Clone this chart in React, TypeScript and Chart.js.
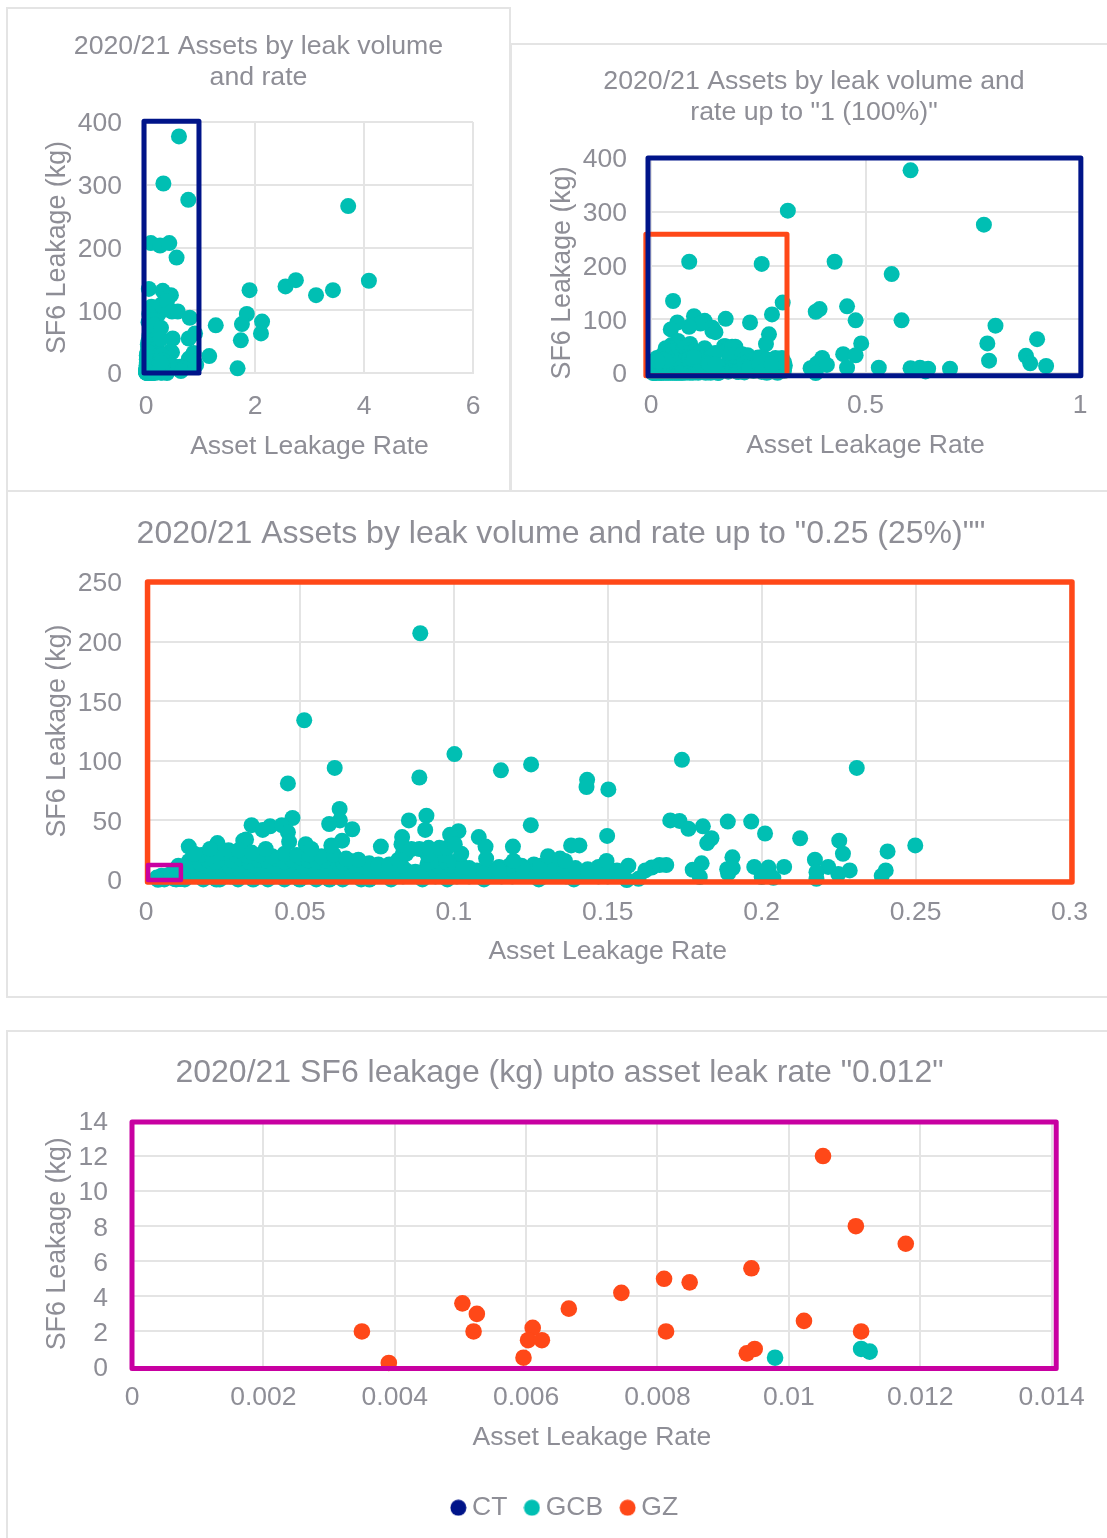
import React, { useEffect, useRef } from "react";
import { Chart, registerables } from "chart.js";

Chart.register(...registerables);

// ---------- data: [asset leak rate, SF6 leakage in kg] ----------
const gcbAboveOne = [
  [3.71, 266], [4.09, 147], [2.75, 148], [2.56, 138], [3.43, 132], [3.12, 124], [1.9, 132], [1.85, 94],
  [1.76, 78], [2.13, 82], [2.11, 63], [1.74, 52], [1.28, 76], [1.16, 27], [1.68, 7.5],
];
const gcbQuarterToOne = [
  [0.319, 302], [0.605, 377], [0.776, 276], [0.258, 203], [0.428, 207], [0.561, 184], [0.307, 131], [0.282, 109],
  [0.457, 124], [0.393, 119], [0.384, 114], [0.477, 98], [0.584, 98], [0.803, 88], [0.49, 55], [0.784, 55],
  [0.9, 63], [0.275, 72], [0.268, 54], [0.448, 35], [0.477, 33], [0.399, 28], [0.788, 23], [0.874, 32],
  [0.884, 18], [0.921, 13], [0.531, 10], [0.457, 10], [0.605, 9], [0.627, 10], [0.646, 8], [0.697, 8],
  [0.64, 3], [0.372, 9], [0.386, 17], [0.384, 0], [0.41, 15], [0.312, 14], [0.3, 15], [0.29, 18],
  [0.26, 30], [0.305, 28], [0.255, 28], [0.262, 18], [0.27, 25], [0.275, 12], [0.283, 22], [0.295, 8],
  [0.3, 5], [0.285, 3], [0.265, 5], [0.275, 2], [0.255, 8], [0.29, 28], [0.31, 4], [0.295, 0.5], [0.27, 0.5],
  [0.262, 12], [0.278, 6], [0.288, 12], [0.3, 12], [0.31, 20], [0.252, 16], [0.258, 2], [0.303, 20], [0.281, 16],
];
const gcbUpperScatter = [
  [0.0891, 207], [0.0514, 134], [0.1002, 105.6], [0.1251, 97], [0.1153, 92], [0.0888, 86], [0.0613, 94], [0.0461, 81],
  [0.1433, 84], [0.1431, 78], [0.1502, 76], [0.0629, 59.6], [0.0911, 54], [0.0476, 52], [0.063, 50], [0.0595, 47],
  [0.0854, 50], [0.067, 42.6], [0.0907, 42], [0.125, 46], [0.0343, 46], [0.0403, 45], [0.0441, 46], [0.0379, 42],
  [0.0461, 40], [0.1015, 41], [0.0988, 38], [0.1081, 36], [0.1103, 28], [0.1192, 28], [0.1381, 29], [0.1408, 29],
  [0.1498, 37], [0.0832, 36], [0.083, 30], [0.0763, 28], [0.0637, 33], [0.0602, 29], [0.0519, 30], [0.0537, 26],
  [0.0465, 32], [0.0325, 34], [0.0316, 33], [0.0232, 31], [0.0139, 28], [0.0389, 26], [0.0208, 26], [0.0268, 25],
  [0.0301, 25], [0.0343, 23], [0.0157, 22], [0.1024, 22], [0.1105, 18], [0.1194, 16], [0.1306, 20], [0.1345, 18],
  [0.1361, 16], [0.1496, 16], [0.0862, 26], [0.0888, 26], [0.0918, 27], [0.0953, 27], [0.0978, 27], [0.1003, 30],
];
const gcbRightScatter = [
  [0.1741, 100.8], [0.2309, 94], [0.1703, 50], [0.1733, 49.6], [0.1762, 43], [0.1809, 45], [0.1837, 35], [0.1823, 31],
  [0.189, 49], [0.1966, 49], [0.2011, 39], [0.2125, 35], [0.2252, 33], [0.2264, 22], [0.2499, 29], [0.2409, 24],
  [0.2403, 8], [0.239, 3.5], [0.1567, 12], [0.169, 12.6], [0.1668, 12.6], [0.1643, 10.5], [0.1622, 8], [0.16, 1],
  [0.1562, 0], [0.1805, 14], [0.1776, 8.6], [0.1799, 2.5], [0.1905, 19], [0.1888, 9], [0.1906, 10], [0.1891, 5.5],
  [0.1976, 11], [0.2022, 10.5], [0.2073, 11], [0.2, 2.5], [0.2038, 1.8], [0.2173, 17], [0.2216, 11], [0.2178, 6.5],
  [0.2178, 1], [0.2249, 5], [0.2286, 8], [0.153, 8], [0.1545, 4],
];
const gcbMassUpper = [
  [0.018, 21], [0.0215, 20], [0.025, 23], [0.029, 21], [0.033, 20], [0.037, 21], [0.041, 20], [0.045, 22],
  [0.049, 21], [0.053, 21], [0.057, 20], [0.061, 21], [0.065, 18], [0.069, 17], [0.0845, 22], [0.0915, 21], [0.097, 21],
];
const gcbMassTop = [
  [0.014, 16], [0.0175, 14], [0.02, 17], [0.0225, 15], [0.025, 18], [0.028, 16], [0.031, 18], [0.0335, 15],
  [0.0365, 17], [0.0395, 16], [0.042, 18], [0.045, 15], [0.0475, 17], [0.05, 19], [0.053, 16], [0.0555, 15],
  [0.0585, 16], [0.061, 18], [0.064, 14], [0.0665, 16], [0.0695, 13], [0.0725, 14], [0.0755, 13], [0.079, 13],
  [0.082, 17], [0.0835, 22], [0.0915, 14], [0.0945, 16], [0.0975, 15], [0.1, 15], [0.103, 11], [0.1147, 11],
  [0.126, 13], [0.1225, 10], [0.128, 12], [0.1145, 9], [0.1395, 10], [0.1435, 9], [0.147, 11],
];
const gcbMassTwelve = [
  [0.015, 12], [0.019, 12], [0.023, 13], [0.027, 12], [0.031, 13], [0.035, 12], [0.039, 13], [0.043, 12],
  [0.047, 13], [0.051, 12], [0.055, 13], [0.059, 12], [0.063, 11], [0.067, 12], [0.071, 11], [0.075, 10],
  [0.079, 10], [0.083, 12], [0.095, 12], [0.099, 12], [0.105, 10], [0.118, 12], [0.122, 12], [0.132, 11], [0.136, 10],
];
const gcbMassMiddle = [
  [0.0125, 7], [0.0155, 9], [0.0185, 8], [0.0215, 10], [0.0245, 9], [0.0275, 10], [0.0305, 8], [0.0335, 9],
  [0.0365, 10], [0.0395, 8], [0.0425, 10], [0.0455, 9], [0.0485, 8], [0.0515, 10], [0.0545, 9], [0.0575, 8],
  [0.0605, 10], [0.0635, 9], [0.0665, 8], [0.0695, 7], [0.0725, 9], [0.0755, 8], [0.0785, 7], [0.0815, 9],
  [0.0845, 8], [0.0875, 7], [0.0905, 8], [0.0935, 9], [0.0965, 8], [0.0995, 9], [0.1025, 8], [0.1075, 8],
  [0.1105, 7], [0.1135, 8], [0.1165, 9], [0.1195, 8], [0.1225, 7], [0.1255, 9], [0.1285, 8], [0.1315, 8],
  [0.1345, 7], [0.1375, 6], [0.1405, 7], [0.1435, 6], [0.1465, 7], [0.149, 8], [0.105, 5],
];
const gcbMassLow = [
  [0.0135, 3], [0.017, 4], [0.0205, 3], [0.024, 4], [0.0275, 3], [0.031, 4], [0.0345, 3], [0.038, 4],
  [0.0415, 3], [0.045, 3], [0.0485, 4], [0.052, 3], [0.0555, 4], [0.059, 3], [0.0625, 3], [0.066, 4],
  [0.0695, 3], [0.073, 3], [0.0765, 4], [0.08, 3], [0.0835, 3], [0.087, 4], [0.0905, 3], [0.094, 3],
  [0.0975, 4], [0.101, 3], [0.105, 3], [0.1085, 3], [0.112, 4], [0.1155, 3], [0.119, 3], [0.1225, 4],
  [0.126, 3], [0.1295, 3], [0.133, 4], [0.1365, 3], [0.14, 3], [0.1435, 4], [0.147, 3], [0.15, 3],
];
const gcbMassOnAxis = [
  [0.0126, 0.5], [0.0186, 0.5], [0.0229, 0.4], [0.024, 0.5], [0.0299, 0.5], [0.0348, 0.4], [0.0396, 0.5], [0.045, 0.5],
  [0.0499, 0.4], [0.0553, 0.5], [0.0596, 0.4], [0.0639, 0.5], [0.0699, 0.5], [0.0726, 0.4], [0.0796, 0.5], [0.0898, 0.5],
  [0.0979, 0.5], [0.1098, 0.5], [0.1276, 0.5], [0.139, 0.5],
];
const gcbNearZero = [[0.00979, 0.5], [0.0111, 1], [0.01123, 0.85]];
const gzNearZero = [
  [0.01052, 12], [0.01102, 8], [0.01178, 7], [0.00943, 5.6], [0.0081, 5], [0.00849, 4.8], [0.00745, 4.2], [0.00665, 3.3],
  [0.00503, 3.6], [0.00525, 3], [0.0035, 2], [0.0052, 2], [0.0061, 2.2], [0.00603, 1.5], [0.00624, 1.5], [0.00596, 0.5],
  [0.00391, 0.2], [0.00813, 2], [0.01023, 2.6], [0.0111, 2], [0.00948, 1], [0.00936, 0.75],
];

// The three overview panels plot every asset in the GCB colour.
const allAssets = [
  ...gcbNearZero, ...gzNearZero, ...gcbMassOnAxis, ...gcbMassLow, ...gcbMassMiddle, ...gcbMassTwelve, ...gcbMassTop,
  ...gcbMassUpper, ...gcbRightScatter, ...gcbUpperScatter, ...gcbQuarterToOne, ...gcbAboveOne,
];
const upToOne = allAssets.filter(([r]) => r <= 1);
const upToQuarter = allAssets.filter(([r]) => r <= 0.25);

// Highlight boxes in data units: [x from, x to, y from, y to]
const boxAllToOne = [-0.037, 0.972, 401, 0];
const boxOneFrame = [-0.007, 1.002, 400, -5];
const boxOneToQuarter = [-0.012, 0.317, 258, -5];
const boxQuarterFrame = [0.0005, 0.3008, 250, -1.7];
const boxQuarterToSmall = [0.00065, 0.01134, 12.6, 0];
const boxSmallFrame = [0, 0.01407, 13.94, -0.115];

const TITLE_ALL = ["2020/21 Assets by leak volume", "and rate"];
const TITLE_ONE = ["2020/21 Assets by leak volume and", 'rate up to "1 (100%)"'];
const TITLE_QUARTER = '2020/21 Assets by leak volume and rate up to "0.25 (25%)""';
const TITLE_SMALL = '2020/21 SF6 leakage (kg) upto asset leak rate "0.012"';
const X_TITLE = "Asset Leakage Rate";
const Y_TITLE = "SF6 Leakage (kg)";

// ---------- styles ----------
const CT = "#001489";
const GCB = "#00BFB3";
const GZ = "#FF4818";
const PINK = "#C800A1";
const GRID = "#E4E4E4";
const TEXT = "#8E8E96";
const FONT = "'Liberation Sans', Arial, sans-serif";

const toXY = (pts: number[][]) => pts.map(([x, y]) => ({ x, y }));
const outline = ([x0, x1, y0, y1]: number[]) => [
  { x: x0, y: y0 }, { x: x1, y: y0 }, { x: x1, y: y1 }, { x: x0, y: y1 }, { x: x0, y: y0 },
];
const points = (label: string, color: string, pts: number[][], r: number) => ({
  label, data: toXY(pts), backgroundColor: color, borderColor: color, borderWidth: 0,
  pointRadius: r, pointStyle: "circle", clip: false, order: 2, showLine: false,
});
const box = (color: string, extent: number[], width: number, order = 1) => ({
  label: "box", data: outline(extent), showLine: true, borderColor: color, backgroundColor: color,
  borderWidth: width, pointRadius: 0, clip: false, order, fill: false, tension: 0,
  borderJoinStyle: "round", borderCapStyle: "round",
});
const fmt = (v: any) => String(+Number(v).toFixed(4));

// Legend marker of a fixed size, so the label can sit close to it.
const legendDot = (color: string) => {
  const c = document.createElement("canvas");
  c.width = 17;
  c.height = 17;
  const g = c.getContext("2d") as CanvasRenderingContext2D;
  g.fillStyle = color;
  g.beginPath();
  g.arc(8.5, 8.5, 8, 0, Math.PI * 2);
  g.fill();
  return c;
};

type Spec = {
  left: number; top: number; width: number; height: number;
  title: any; titleSize: number; titleLine: number; titleTop: number; titleBottom: number;
  yAxisWidth: number; yTitlePad: number; yTitle: string; rightGap: number;
  xAxisHeight: number; xTickPad: number; xTitleBottom?: number; bottomPad: number;
  xMax: number; xStep: number; yMax: number; yStep: number;
  datasets: any[]; legend?: boolean;
};

const specs: Spec[] = [
  {
    left: 7, top: 8, width: 503, height: 482, title: TITLE_ALL, titleSize: 26.7, titleLine: 31, titleTop: 23, titleBottom: 29,
    yAxisWidth: 139, yTitlePad: 35, yTitle: Y_TITLE, rightGap: 37, xAxisHeight: 90, xTickPad: 18, bottomPad: 27,
    xMax: 6, xStep: 2, yMax: 400, yStep: 100,
    datasets: [box(CT, boxAllToOne, 5), points("GCB", GCB, allAssets, 8)],
  },
  {
    left: 511, top: 44, width: 606, height: 446, title: TITLE_ONE, titleSize: 26.7, titleLine: 31, titleTop: 22, titleBottom: 30,
    yAxisWidth: 140, yTitlePad: 36, yTitle: Y_TITLE + "  ", rightGap: 37, xAxisHeight: 89, xTickPad: 17, bottomPad: 28,
    xMax: 1, xStep: 0.5, yMax: 400, yStep: 100,
    datasets: [box(CT, boxOneFrame, 5, 0), box(GZ, boxOneToQuarter, 5, 1), points("GCB", GCB, upToOne, 8)],
  },
  {
    left: 6, top: 491, width: 1110, height: 506, title: TITLE_QUARTER, titleSize: 32, titleLine: 38, titleTop: 24, titleBottom: 29,
    yAxisWidth: 140, yTitlePad: 36, yTitle: Y_TITLE, rightGap: 46.5, xAxisHeight: 88, xTickPad: 17, bottomPad: 29,
    xMax: 0.3, xStep: 0.05, yMax: 250, yStep: 50,
    datasets: [box(PINK, boxQuarterToSmall, 4.5, 0), box(GZ, boxQuarterFrame, 5.5, 1), points("GCB", GCB, upToQuarter, 8)],
  },
  {
    left: 7, top: 1031, width: 1105, height: 507, title: TITLE_SMALL, titleSize: 32, titleLine: 38, titleTop: 23, titleBottom: 29,
    yAxisWidth: 125, yTitlePad: 35, yTitle: Y_TITLE, rightGap: 60.4, xAxisHeight: 104, xTickPad: 15, xTitleBottom: 17, bottomPad: 7,
    xMax: 0.014, xStep: 0.002, yMax: 14, yStep: 2, legend: true,
    datasets: [
      box(PINK, boxSmallFrame, 5, 0),
      points("CT", CT, [], 8.3),
      points("GCB", GCB, gcbNearZero, 8.3),
      points("GZ", GZ, gzNearZero, 8.3),
    ],
  },
];

const TICK_FONT = { family: FONT, size: 26.5, lineHeight: 1.2 };
const Y_TITLE_FONT = { family: FONT, size: 26.8, lineHeight: 1.2 };

const legendShift = {
  id: "legendShift",
  afterLayout(chart: any) {
    if (chart.legend && chart.options.plugins.legend.display) {
      chart.legend.left += 8.5;
      chart.legend.right += 8.5;
    }
  },
};

function Panel({ spec }: { spec: Spec }) {
  const ref = useRef<HTMLCanvasElement | null>(null);
  useEffect(() => {
    const s = spec;
    const chart = new Chart(ref.current as HTMLCanvasElement, {
      type: "scatter",
      data: { datasets: s.datasets },
      plugins: [legendShift],
      options: {
        animation: false,
        responsive: false,
        events: [],
        layout: { padding: { left: 0, right: 0, top: 0, bottom: s.bottomPad } },
        plugins: {
          tooltip: { enabled: false },
          title: {
            display: true, text: s.title, color: TEXT,
            font: { family: FONT, size: s.titleSize, weight: "normal", lineHeight: s.titleLine / s.titleSize },
            padding: { top: s.titleTop, bottom: s.titleBottom },
          },
          legend: {
            display: !!s.legend, position: "bottom",
            labels: {
              usePointStyle: true, boxHeight: 1, boxWidth: 1, padding: 24, color: TEXT,
              font: TICK_FONT,
              generateLabels: (c: any) =>
                (Chart.defaults.plugins.legend.labels as any).generateLabels(c).map((item: any) => ({
                  ...item, pointStyle: legendDot(item.fillStyle),
                })),
              filter: (item: any) => item.text !== "box",
            },
          },
        },
        scales: {
          x: {
            type: "linear", min: 0, max: s.xMax,
            afterFit: (a: any) => { a.height = s.xAxisHeight; },
            grid: { color: GRID, lineWidth: 2, drawTicks: false },
            border: { color: GRID, width: 2 },
            ticks: { stepSize: s.xStep, padding: s.xTickPad, color: TEXT, font: TICK_FONT, callback: fmt, autoSkip: false, maxRotation: 0 },
            title: { display: true, text: X_TITLE, color: TEXT, font: TICK_FONT, padding: { top: 0, bottom: s.xTitleBottom || 0 } },
          },
          y: {
            type: "linear", min: 0, max: s.yMax,
            afterFit: (a: any) => { a.width = s.yAxisWidth; },
            grid: { color: GRID, lineWidth: 2, drawTicks: false },
            border: { color: GRID, width: 2 },
            ticks: { stepSize: s.yStep, padding: 24, labelOffset: 2, color: TEXT, font: TICK_FONT, callback: fmt, autoSkip: false },
            title: { display: true, text: s.yTitle, color: TEXT, font: Y_TITLE_FONT, padding: { top: s.yTitlePad, bottom: 0 } },
          },
          gutter: {
            type: "linear", axis: "y", position: "right", display: true,
            afterFit: (a: any) => { a.width = s.rightGap; },
            grid: { display: false }, border: { display: false }, ticks: { display: false },
          },
        },
      } as any,
    } as any);
    return () => chart.destroy();
  }, [spec]);
  return (
    <canvas
      ref={ref}
      width={spec.width}
      height={spec.height}
      style={{ position: "absolute", left: spec.left, top: spec.top, width: spec.width, height: spec.height }}
    />
  );
}

const frame = (left: number, top: number, width: number, height: number): React.CSSProperties => ({
  position: "absolute", left, top, width, height, border: `2px solid ${GRID}`, boxSizing: "border-box",
});

export default function App() {
  return (
    <div style={{ position: "absolute", left: 0, top: 0, width: 1107, height: 1538, overflow: "hidden", background: "#fff" }}>
      <div style={frame(510, 43, 640, 449)} />
      <div style={frame(6, 7, 505, 485)} />
      <div style={frame(6, 490, 1140, 508)} />
      <div style={frame(6, 1030, 1140, 560)} />
      {specs.map((s, i) => <Panel key={i} spec={s} />)}
    </div>
  );
}
